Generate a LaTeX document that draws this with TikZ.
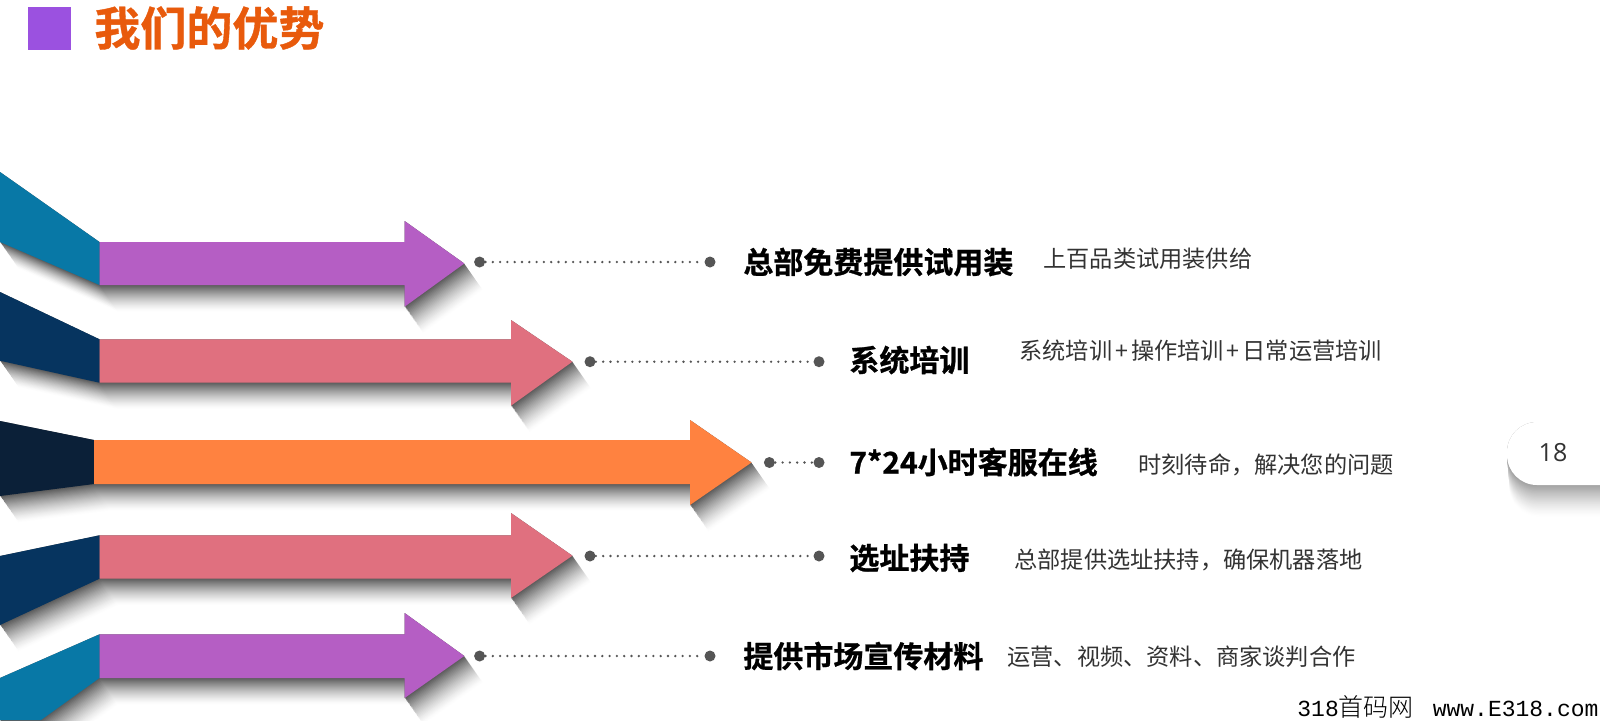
\documentclass[tikz,border=0pt]{standalone}
\usepackage{fontspec}
\setmainfont{Noto Sans CJK SC}
\newfontfamily\heavyfont[FakeBold=0.8]{Noto Sans CJK SC Bold}
\newfontfamily\markfont{Liberation Mono}
\newfontfamily\lightfont{Noto Sans CJK SC Light}
\newfontfamily\numfont{Open Sans}
\definecolor{titlecolor}{HTML}{E85A0C}
\definecolor{squarecolor}{HTML}{9B51E0}
\definecolor{purplearrow}{HTML}{B55EC4}
\definecolor{pinkarrow}{HTML}{E0707F}
\definecolor{orangearrow}{HTML}{FF8240}
\definecolor{tealtail}{HTML}{0878A6}
\definecolor{navytail}{HTML}{06345F}
\definecolor{darktail}{HTML}{0B2038}
\definecolor{dotcolor}{HTML}{555555}
\definecolor{subcolor}{HTML}{333333}
\usetikzlibrary{positioning}
\tikzset{
    enddot/.style={circle, fill=dotcolor, inner sep=0pt, minimum size=5.5pt},
    dotline/.style={dotcolor, line width=1.3pt, line cap=round, dash pattern=on 0pt off 3.65pt},
    headtext/.style={anchor=west, inner sep=0pt, font=\heavyfont\fontsize{15}{17}\selectfont},
    subtext/.style={anchor=west, inner sep=0pt, text=subcolor, font=\fontsize{11.6}{14}\selectfont},
}
% soft shadow: shifted copies, from the farthest and palest to the darkest
\newcommand{\softshadow}[5]{
    \foreach \s in {#4,...,0} {
        \pgfmathsetmacro{\g}{#5*(1-\s/(#4+1))^1.4}
        \fill[black!\g, shift={(\s*#2,\s*#3)}] #1;
    }
}
% tails and arrows of the rows
\def\tailA{(0,172) -- (99.5,242) -- (99.5,285) -- (0,242) -- cycle}
\def\bodyA{(99.5,242) -- (404.6,242) -- (404.6,221) -- (464.3,263.5) -- (404.6,306.7) -- (404.6,285) -- (99.5,285) -- cycle}
\def\tailB{(0,292) -- (99.5,339.3) -- (99.5,382.7) -- (0,360.7) -- cycle}
\def\bodyB{(99.5,339.3) -- (511,339.3) -- (511,320) -- (572.4,361.7) -- (511,405.7) -- (511,382.7) -- (99.5,382.7) -- cycle}
\def\tailC{(0,421) -- (94,440) -- (94,484) -- (0,496) -- cycle}
\def\bodyC{(94,440) -- (690,440) -- (690,420) -- (751.5,462.5) -- (690,505) -- (690,484) -- (94,484) -- cycle}
\def\tailD{(0,556) -- (99.5,535.3) -- (99.5,578.7) -- (0,625) -- cycle}
\def\bodyD{(99.5,535.3) -- (511,535.3) -- (511,513) -- (572.4,555.7) -- (511,598) -- (511,578.7) -- (99.5,578.7) -- cycle}
\def\tailE{(0,678) -- (99.5,634.3) -- (99.5,678) -- (41,720) -- (0,720) -- cycle}
\def\bodyE{(99.5,634.3) -- (404.6,634.3) -- (404.6,613) -- (464.3,656) -- (404.6,698) -- (404.6,678) -- (99.5,678) -- cycle}

\begin{document}
\begin{tikzpicture}[x=.5pt, y=-.5pt]
    \useasboundingbox (0,0) rectangle (1600,720);
    \fill[white] (0,0) rectangle (1600,720);

    % title
    \fill[squarecolor] (27.6,6.7) rectangle (71,50);
    \node[anchor=west, inner sep=0pt, text=titlecolor, font=\heavyfont\fontsize{23}{26}\selectfont] (title) at (94,28) {我们的优势};

    % arrows
    \softshadow{\tailA \bodyA \tailB \bodyB \tailC \bodyC \tailD \bodyD \tailE \bodyE}{.7}{1}{26}{66}
    \fill[tealtail] \tailA;
    \fill[purplearrow] \bodyA;
    \fill[navytail] \tailB;
    \fill[pinkarrow] \bodyB;
    \fill[darktail] \tailC;
    \fill[orangearrow] \bodyC;
    \fill[navytail] \tailD;
    \fill[pinkarrow] \bodyD;
    \fill[tealtail] \tailE;
    \fill[purplearrow] \bodyE;

    % dotted connectors
    \node[enddot] (dotAa) at (479.6,262) {};
    \node[enddot] (dotAb) at (710,262) {};
    \node[enddot] (dotBa) at (590,361.7) {};
    \node[enddot] (dotBb) at (819,361.7) {};
    \node[enddot] (dotCa) at (769.4,462.5) {};
    \node[enddot] (dotCb) at (819,462.5) {};
    \node[enddot] (dotDa) at (590,556) {};
    \node[enddot] (dotDb) at (819,556) {};
    \node[enddot] (dotEa) at (479.6,656) {};
    \node[enddot] (dotEb) at (710,656) {};
    \foreach \r in {A,B,C,D,E} {
        \draw[dotline] (dot\r a) -- (dot\r b);
    }

    % labels
    \node[headtext] (headA) at (743,262) {总部免费提供试用装};
    \node[headtext] (headB) at (849,360) {系统培训};
    \node[headtext] (headC) at (849,462) {7*24小时客服在线};
    \node[headtext] (headD) at (849,558) {选址扶持};
    \node[headtext] (headE) at (743,656) {提供市场宣传材料};
    \node[subtext] (subA) at (1043,259) {上百品类试用装供给};
    \node[subtext] (subB) at (1019,351) {系统培训\kern1.5pt+\kern1.5pt操作培训\kern1.5pt+\kern1.5pt日常运营培训};
    \node[subtext] (subC) at (1138,465) {时刻待命，解决您的问题};
    \node[subtext] (subD) at (1014,560) {总部提供选址扶持，确保机器落地};
    \node[subtext] (subE) at (1007,657) {运营、视频、资料、商家谈判合作};

    % page badge
    \softshadow{[rounded corners=15pt] (1507,422) rectangle (1680,485)}{.1}{1.2}{26}{38}
    \fill[white, rounded corners=15pt] (1507,422) rectangle (1680,485);
    \node[inner sep=0pt, text=subcolor, font=\numfont\fontsize{12.5}{14}\selectfont] (pagenum) at (1553,453) {18};

    % watermark
    \node[anchor=base west, inner sep=0pt, text=black, font=\lightfont\fontsize{12.5}{14}\selectfont] (mark) at (1297,716) {{\markfont\fontsize{11.5}{14}\selectfont 318}首码网\kern9.5pt{\markfont\fontsize{11.5}{14}\selectfont www.E318.com}};
\end{tikzpicture}
\end{document}
